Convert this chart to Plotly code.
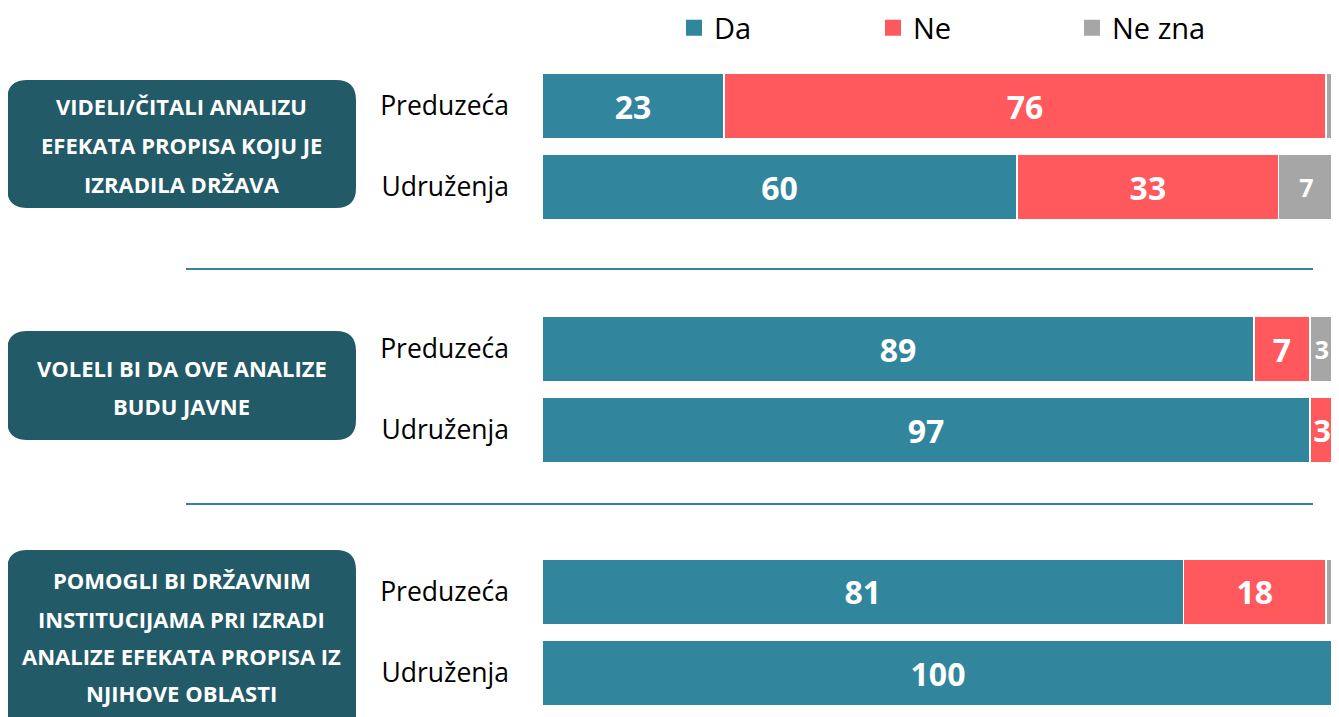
import plotly.graph_objects as go

# ---- data ----
row_labels = ["Preduzeća", "Udruženja", "Preduzeća", "Udruženja", "Preduzeća", "Udruženja"]
group_of_row = [0, 0, 1, 1, 2, 2]
question_lines = [
    ["VIDELI/ČITALI ANALIZU", "EFEKATA PROPISA KOJU JE", "IZRADILA DRŽAVA"],
    ["VOLELI BI DA OVE ANALIZE", "BUDU JAVNE"],
    ["POMOGLI BI DRŽAVNIM", "INSTITUCIJAMA PRI IZRADI", "ANALIZE EFEKATA PROPISA IZ", "NJIHOVE OBLASTI"],
]
da = [23, 60, 89, 97, 81, 100]
ne = [76, 33, 7, 3, 18, 0]
ne_zna = [1, 7, 3, 0, 1, 0]
series_names = ["Da", "Ne", "Ne zna"]

# ---- styles ----
W, H = 1339, 717
OFF = 8  # page body margin
C_DA = "#31859C"
C_NE = "#FF595E"
C_NZ = "#A6A6A6"
C_BOX = "#235A68"
FONT = "Open Sans"

def px_x(x):
    return (x - OFF) / W

def px_y(y):
    return 1 - (y - OFF) / H

# row positions: two rows per group, one empty slot between groups
ypos = [g * 3 + i % 2 for i, g in enumerate(group_of_row)]

fig = go.Figure()
for name, vals, col, tsize in zip(series_names, [da, ne, ne_zna], [C_DA, C_NE, C_NZ], [32, 32, 25]):
    fig.add_trace(go.Bar(
        name=name, orientation="h", x=vals, y=ypos, legendgroup=name, showlegend=False,
        marker=dict(color=col, line=dict(color="white", width=1.5)),
        width=0.81,
        text=[str(v) if v >= 3 else "" for v in vals],
        textposition="inside", insidetextanchor="middle",
        textfont=dict(color="white", size=tsize, family=FONT, weight="bold"),
        hoverinfo="x+name",
    ))
# legend entries (square markers)
for name, col in zip(series_names, [C_DA, C_NE, C_NZ]):
    fig.add_trace(go.Scatter(x=[None], y=[None], mode="markers", name=name, legendgroup=name,
                             marker=dict(symbol="square", size=18, color=col), showlegend=True))

shapes = []
annotations = []

def rounded_rect(x0, y0, x1, y1, r):
    def P(x, y):
        return f"{px_x(x):.5f},{px_y(y):.5f}"
    return ("M " + P(x0 + r, y0) + " L " + P(x1 - r, y0) + " Q " + P(x1, y0) + " " + P(x1, y0 + r) +
            " L " + P(x1, y1 - r) + " Q " + P(x1, y1) + " " + P(x1 - r, y1) +
            " L " + P(x0 + r, y1) + " Q " + P(x0, y1) + " " + P(x0, y1 - r) +
            " L " + P(x0, y0 + r) + " Q " + P(x0, y0) + " " + P(x0 + r, y0) + " Z")

boxes = [(7, 80, 356, 208, [106, 145, 184]),
         (7, 331, 356, 440, [368, 406]),
         (7, 550, 356, 760, [580, 619, 656, 693])]
for (x0, y0, x1, y1, line_ys), lines in zip(boxes, question_lines):
    shapes.append(dict(type="path", xref="paper", yref="paper", path=rounded_rect(x0, y0, x1, y1, 20),
                       fillcolor=C_BOX, line=dict(width=0), layer="below"))
    for ly, txt in zip(line_ys, lines):
        annotations.append(dict(xref="paper", yref="paper", x=px_x((x0 + x1) / 2), y=px_y(ly),
                                text=txt, showarrow=False, xanchor="center", yanchor="middle",
                                font=dict(color="white", size=22, family=FONT, weight="bold")))

for ly in [269, 504]:
    shapes.append(dict(type="line", xref="paper", yref="paper", x0=px_x(186), x1=px_x(1313),
                       y0=px_y(ly), y1=px_y(ly), line=dict(color=C_DA, width=2)))

fig.update_layout(
    width=W, height=H,
    margin=dict(l=0, r=0, t=0, b=0, autoexpand=False),
    paper_bgcolor="white", plot_bgcolor="white",
    barmode="stack", barnorm="percent",
    font=dict(family=FONT, color="black"),
    xaxis=dict(domain=[px_x(542), px_x(1334)], range=[0, 100], showgrid=False, zeroline=False,
               showticklabels=False, showline=False, fixedrange=True),
    yaxis=dict(range=[(H - 98) / 81, -98 / 81], tickvals=ypos, ticktext=row_labels,
               showgrid=False, zeroline=False, showline=False, ticks="",
               ticklabelstandoff=32, tickfont=dict(size=26.5, color="black", family=FONT)),
    legend=dict(orientation="h", x=px_x(674), xanchor="left", y=px_y(28), yanchor="middle",
                traceorder="normal", itemsizing="trace",
                entrywidth=154, entrywidthmode="pixels", font=dict(size=29, color="black", family=FONT),
                bgcolor="rgba(0,0,0,0)"),
    shapes=shapes, annotations=annotations,
)

fig.write_html("out.html")
